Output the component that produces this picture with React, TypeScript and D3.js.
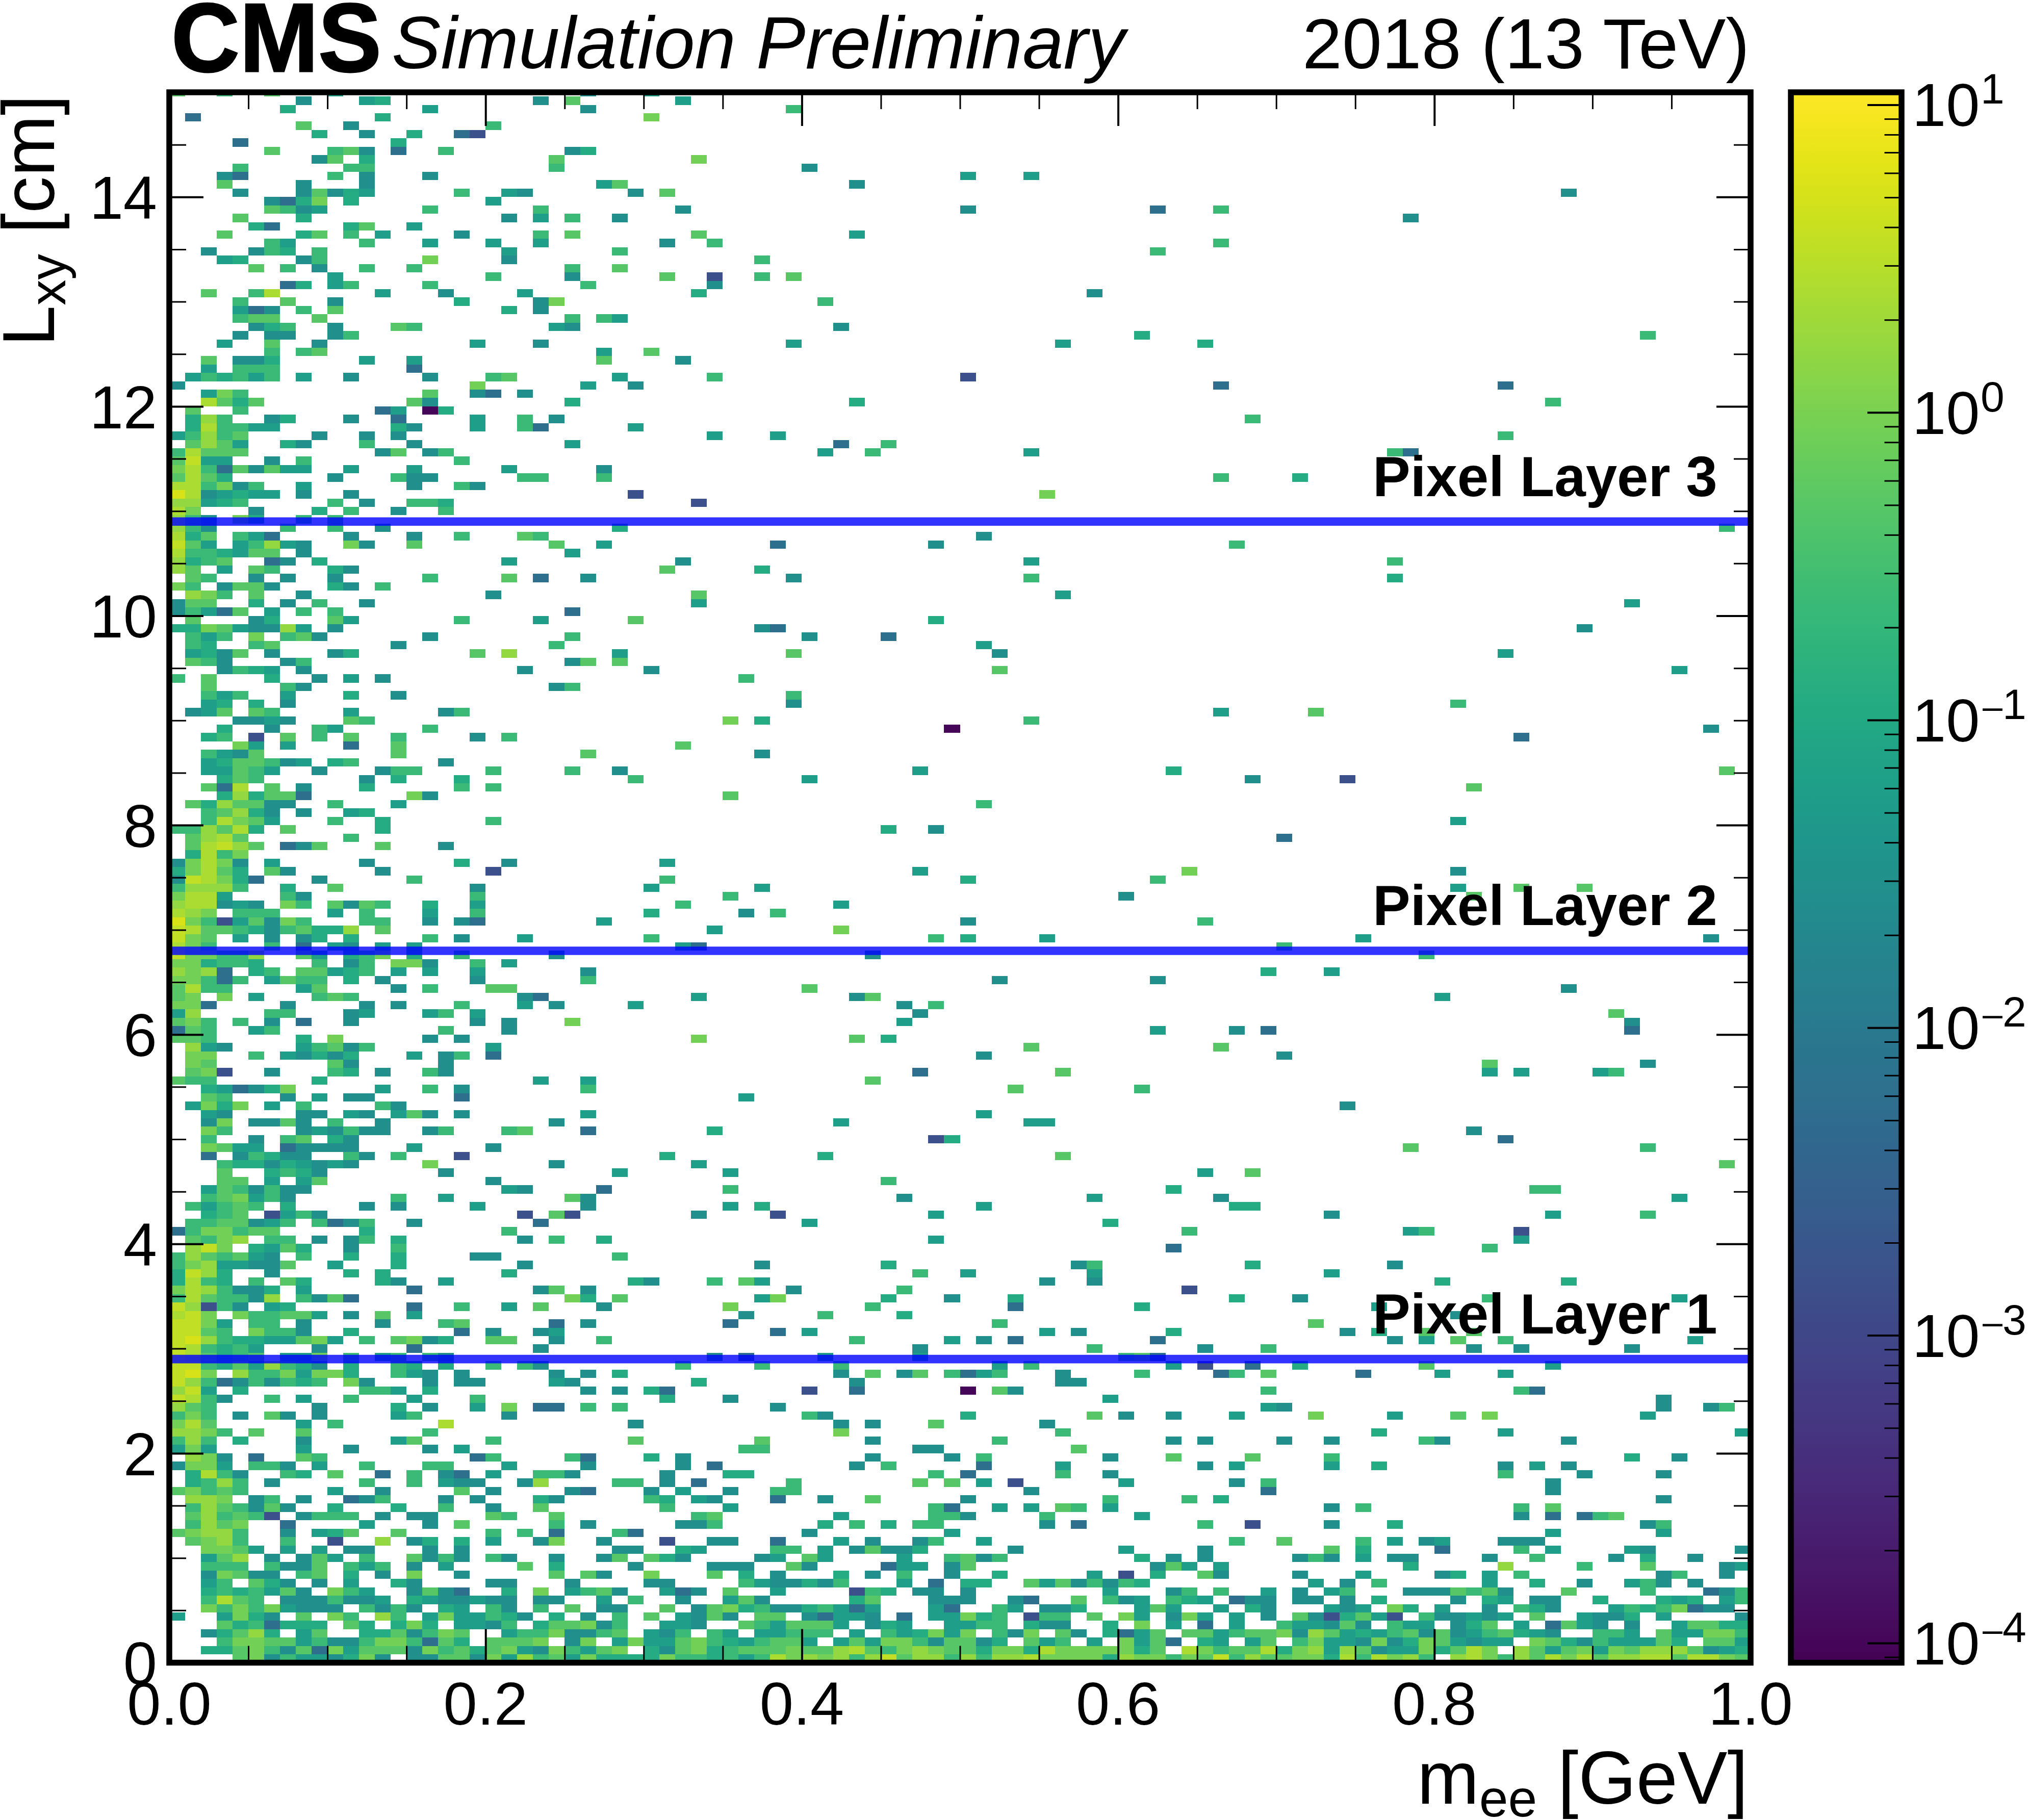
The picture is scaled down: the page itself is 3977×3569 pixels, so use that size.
import React, { useEffect, useRef } from 'react';
import * as d3 from 'd3';

// Each row is one Lxy bin, top of the plot first. Token = m_ee bin index + weight level.
const rowsTop = [
  '0h 3g 6h 10e 26d 30e', '8d 12e 13f 23d 25h 32e', '7f 16e 26d 39g', '1c 13f 30i', '8h 11d 20g', '9f 12d 15f 18c 19b',
  '4c 14f', '6h 10g 11h 12d 14c 17g 25d 26f', '9d 10h 12f 24h 33i', '4g 11g 12g 24g 40d', '3d 4c 10g 12d 16d 50e 54e',
  '3h 8d 12d 27e 28h 43d', '4d 8d 9h 10d 11f 12e 18g 21e 22d 29d 31h 88d', '6d 7c 8f 9i 11f 20e',
  '6h 7g 8d 9e 16g 23g 32d 50d 62c 66g', '4h 8f 21d 23e 25g 28d 78d', '5f 6c 11f 12h 15e',
  '3h 8f 9h 11g 13e 18d 23g 25h 33h 43e', '6g 7e 12g 16e 20e 23e 31d 34g 66g', '2d 5d 6g 7f 9g 21e 28g 62g',
  '3e 4f 8d 9g 16i 21d 37g', '5h 7g 9d 12g 15g 25g 28h', '10e 20g 25d 31h 34b 37g 39h', '7c 8f 10e 11g 16g 26g 34d',
  '2h 5g 6k 13e 17d 22e 33f 58d', '4g 7h 10d 18f 23d 24i 41g', '4e 5c 6d 8g 10h 21f 23d', '4g 5h 6h 9h 25g 27g 28e',
  '5d 6f 7g 10d 14h 15g 24e 25d 42d', '4d 6d 7d 10d 11g 61f 93g', '3e 6h 9d 19e 23d 39e 56e 65f', '6g 8g 9h 27e 30h',
  '2h 4d 5d 6f 12e 15e 27h 32d', '2e 4g 5g 6g 15c', '1e 2g 3f 4g 5e 6g 8e 11d 16d 20g 21h 28e 34g 50b',
  '0d 19i 26e 29d 66c 84c', '2e 3i 4g 16h 19d 20c 22d', '2k 3h 4f 5h 15h 16d 25f 43f 87g', '1h 4g 13c 14e 16a 17f',
  '1f 2j 3g 6d 7f 11d 14c 19e 22g 24d 68g', '1f 2k 3g 4g 5e 6e 14f 15d 19e 22g 23c 29e',
  '0e 1g 2j 3g 4h 9d 12d 14d 34e 38e 84g', '1h 2j 3h 4e 7f 8d 12g 15d 25e 42c 45g',
  '0g 1k 2h 3h 4h 13d 14h 16d 17g 41e 44g 54e 77g 78c', '0h 1l 2e 3e 6d 8g 18g',
  '0i 1k 2g 3c 4h 5d 6h 7e 8e 11e 15e 21e 27d', '0h 1k 2h 3f 10d 14g 15d 16d 22g 23g 27g 66g 71f',
  '0k 1k 2g 3i 4d 5g 8e 15d 18g 19d',
];

const rowsUpper = [
  '0m 1k 2d 3e 4f 5e 6e 8d 11d 29b 55i', '0j 1j 2e 3f 4g 10g 12d 15g 16g 17f 33b', '0k 1i 5d 9f 11g 14d 17g',
  '0j 1g 2d 4i 5f 8g 10g', '0j 1g 2d 7g 10g 13d 28f 98g', '0k 1f 2h 4g 5e 6c 11d 15d 18g 22h 23g 51d',
  '0l 1h 2e 4e 5g 6j 7e 8d 11i 12d 15h 24h 27e 38c 48d 67g', '0k 1g 2g 3f 4e 5h 6h 8d 25e',
  '0j 1f 2g 3h 6c 7d 9f 21e 32d 54e 77g', '0j 1h 3e 5h 6g 10f 11d 31h 37f', '1h 2g 5d 7d 10d 16g 21h 23c 26d 39d 54g 77f',
  '0i 1g 3d 4h 5h 6d 10f 11d 13g', '1j 2i 3g 5h 8d 20d 33h 56e', '0d 1h 2h 5f 7d 9g 12d 33e 92e',
  '0d 1g 2e 3c 4h 6e 8g 10g 25c', '1h 5d 6f 10h 11e 18g 23e 29h 48f', '0f 1f 2i 3h 4e 5d 6d 7j 8e 10d 37d 38c 89d',
  '1g 2e 3g 5i 7g 8h 9d 16d 25g 40d 45c', '1g 2f 5g 6h 14d 24g 51e', '1e 2f 3d 4h 6d 10d 11f 19h 21j 28e 39h 52d 84e',
  '1h 2g 3d 7d 8g 25d 26h 28h', '3d 4g 5f 6e 8d 22d 30d 52h 95e', '0g 2h 6f 9d 11e 13d 36g', '2h 7g 8d 24d 25g',
  '2g 3e 4g 7e 11f 14d 39g', '2e 3f 5f 7d 39d 81g', '1d 2e 3h 5h 6g 11e 17d 18g 66e 72h', '4d 5d 6e 7d 11h 12g 35i 37f 54g',
  '3f 6d 9g 10e 16g 49a 97d', '2f 3g 5b 7h 9g 11h 14g 19d 21g 85c', '4i 5e 7e 11c 14h 32h', '2g 3e 4d 5h 14h 26h 37d',
  '2e 3f 4h 5h 6g 7d 8e 10f 11g 17d', '2e 3e 4h 5g 6e 9d 13d 14g 15g 20g 25g 28d 47e 63f 98h',
  '3f 4h 5g 12d 14f 18f 29g 40e 68d 74b', '2h 3c 4k 6h 8d 12f 18g 20g 82h', '3f 4j 5f 6h 7h 8c 15i 16d 35h',
  '1h 2f 3j 4h 5h 6d 7d 10g 14e 51g', '2g 3h 4j 5f 6d 8d 11e 12f', '2g 3k 4i 5h 6e 10g 13f 20g 81e',
  '0g 1g 2j 3h 4k 5f 7h 13f 45f 48d', '1h 2j 3k 4h 11g 70c', '1h 2k 3l 4j 5h 7c 8d 9h 13h 17d', '1f 2k 3g 4i',
  '0d 1i 2k 3i 4d 6e 12d 18f 21d 31e', '0f 1i 2k 3h 4f 6h 7d 13d 20b 47e 64i 81d', '0d 1l 2k 3i 4f 5c 9d 15g 31g 50f 62g',
  '0g 1j 2j 3j 4g 7f 10h 19d 30e 37e 81e 85h 89h',
];

const rowsMiddle = [
  '0i 1k 2k 3e 7g 8d 19g 35g 60d 82h', '0j 1k 2k 3d 4e 5d 7i 8g 10h 11d 12h 13g 16f 19e 32g 42e',
  '0k 1j 2i 4g 5g 6g 10e 12g 16e 19g 30f 36d 38g', '0m 1i 2g 3b 4e 5h 6d 7i 8g 12g 13g 16d 18d 19c 27e 50d 65g',
  '0l 1k 2h 3h 4g 5f 6d 7g 8h 9f 10f 11j 13h 34e 42i', '0l 1i 2h 4e 6d 8d 9f 11f 16g 18d 22e 30g 48g 50f 55e 75e 97d',
  '0k 1i 2g 6g 8c 10e 11d 13e 15e 32e 33c 70g', '0l 1i 2i 3g 4g 5j 8h 9e 11f 12g 13i 15f 18g 24d 44d 79g',
  '0i 1i 2f 3g 4g 5f 9g 11d 12g 14i 15i 16d 19g 21e', '0j 1i 2j 3c 5f 6g 8h 9h 10e 11f 12g 14e 16e 19e 26d 69f 73e',
  '0i 1i 2g 3c 4g 6e 7h 8g 9g 11f 13d 19d 26g 52d 62d', '0h 1k 2g 3g 8e 9h 14d 16g 20h 21h 40h 88d',
  '0h 1i 3i 5e 9g 10h 11g 22d 23c 33e 43d 44h 80e', '0i 1i 2c 7d 12d 14d 18g 22e 24d 29e 46d 48g',
  '0e 1j 6g 7g 11d 12e 16e 17g 19e 47d 91h', '0h 1i 2g 4g 6d 8c 11d 19d 21d 25i 46e 92d',
  '0c 1h 2g 5e 6g 17g 21d 62e 67d 69c 92c', '0h 1h 2g 8f 10i 16d 18d 33i 43h 45f', '1j 2e 3d 8e 9g 10h 11d 12g 20e 54h 66h',
  '1i 2i 5g 7e 8d 9f 10d 11f 15e 17d 18g 20c 51d 70d', '1i 2h 10h 11d 17d 83h 93d',
  '1h 2i 3b 6d 10g 11f 13d 16g 17d 47c 56h 83e 85e 90e 91g', '0h 1g 2g 9f 23e 26e 44h',
  '2f 3e 4c 5d 6f 7i 13e 16g 18d 26g 53h 61g', '2h 3g 7d 9e 11d 12d 18c 36e', '1e 2i 3f 4i 6e 8g 13g 14d 74d',
  '2e 3d 8d 9d 11e 12d 14e 15h 16d 18d 26e 51e', '2d 3i 5d 6d 7h 8d 10g 13d 24d 42e 54e 55e',
  '2i 3g 8d 9e 10d 11g 12d 13d 16d 17g 21g 22h 26c 34f 82d', '2g 5d 7g 8h 10f 11d 48b 49f 84c',
  '2i 3h 4e 5e 7c 8d 9d 10d 11d 15e 20d 78h 93g', '2c 4d 5g 6f 7d 8d 11g 12d 14g 18b 31f 41f 56h',
  '3g 4f 5f 6d 7f 8e 9d 10e 11d 16i 24d 33e 98h', '3h 6f 7g 8f 9d 17d 28e 35e 65e 68h', '3h 4h 6e 8e 9h 20d 45g',
  '2e 3h 4g 5d 6g 7d 8d 21e 22d 27c 35g 63f 86g 87g', '2g 3h 4i 5e 6g 7d 14g 17e 25h 26d 46d 58e 66d 95e',
  '1g 2e 3g 4h 5g 7f 12d 14d 19e 26d 35e 37f 51e 67f 68f', '2f 3g 4h 6b 7e 8g 9d 22b 24h 25b 33d 38b 48e 73d 87e 93g',
  '1g 2g 3h 4h 5d 6e 7g 9g 10c 11d 12g 15d 23c 40e 59f', '0c 1g 2i 3i 4g 5h 6h 12f 21g 64g 78e 79g 85b',
  '1h 2g 3i 4j 6g 7g 9d 11d 12g 14f 22d 24g 27f 48e 85e', '1j 2l 3i 5f 6e 7h 8f 11d 14g 63c 83g',
  '0g 1j 2h 3g 4h 5e 6d 8g 11f 14f 19d 20d 28g', '0g 1i 2j 3e 4e 5d 6d 7h 10e 14f 22d 37d 45f 57d 58g 68f 77d',
  '0f 1l 2j 3f 6d 11f 13f 21f 47g 50e 58e 73e', '0f 1k 2g 3f 5g 7h 8f 13f 14d 17e 29f 30d 34g 36h 37e 55d 58d 80f 88f',
];

const rowsLower = [
  '0i 1k 2j 3g 4d 5d 6f 8e 15c 23d 24h 26d 39d 46g 64b',
  '0g 1k 2h 3g 4g 5d 6j 8g 9d 10h 11c 25i 26f 28h 37e 38i 45f 49d 53f 67f 71d 83g 95e',
  '0l 1j 2b 3g 4d 6e 7f 15c 18g 21e 23h 27d 35i 44g 53c 61f 76e',
  '0k 1l 2i 4i 5g 6g 7h 8h 9e 11d 13h 15e 36d 41g 46f 81d',
  '0l 1l 2i 3e 5g 6g 8d 13d 17g 18h 24c 26d 35c 52g 72h',
  '0l 1l 2h 3g 5i 6g 7g 8d 11f 18c 20d 23d 24e 38c 40e 55e 57d 63f 74d 76f 79h 82h',
  '0l 1m 2j 3g 4f 5f 6e 7e 8h 9i 10e 12g 14h 15i 16d 17f 20h 21h 24d 27g 43g 49e 51d 53c 62c 77d 79e 81h 84g 96e',
  '0l 1k 2g 3f 4g 5e 9d 15c 23d 47d 58g 65d 69g 82d 85d 92d',
  '0l 1k 2h 3f 4g 5h 7e 8e 9i 11g 13e 14g 16g 17d 34d 36c 41e 47e 60g 61h 62c',
  '0l 1l 2g 3f 4h 5e 6j 7g 8f 9d 11f 14g 15f 17f 20g 22g 23d 32g 37g 42g 52e 54g 63e 65b 68c 71f 79h 87e',
  '0l 1m 2i 4j 5g 6g 7i 8e 9i 10i 11f 14g 15e 16d 18d 24d 26d 28f 42d 44h 46d 47h 49g 50c 51e 52g 56d 61g 66c 67g 69h 75c 80e 84e',
  '0l 1j 2g 3c 4d 5g 6d 7g 8f 9g 11i 12d 16d 18d 19d 24e 25d 33f 43d 56d 57d',
  '0j 1l 2e 4f 12g 13g 14e 16f 26d 28d 30f 31c 40b 43c 50a 52h 53d 69g 85g 86c',
  '0l 1k 2g 3d 6g 8e 11g 15e 19g 31f 35d 59e 94d',
  '0j 1h 2g 9d 14f 16d 19e 21i 23c 24c 26g 28g 38d 69e 70d 94d 97d 98g',
  '0g 1i 2g 4d 6h 7d 9d 14e 15g 21d 40g 41d 50f 58h 60d 63d 67e 72i 77e 81h 83i 93e',
  '0i 1k 2h 8e 10g 17k 29d 42d 44d 48h 55d',
  '0j 1j 2i 3g 5h 8h 16g 42i 56g 76f 84e 99e',
  '0g 1j 2g 4f 8d 14e 15h 20g 29h 37h 44d 52g 63d 65d 70d 73d 79g 80d 88d',
  '0e 1i 2e 8e 11d 16d 18e 36g 37g 47d 48d 57h',
  '1j 2i 3d 5c 8h 9g 19c 20g 25g 26c 30f 32d 44d 49d 51g 59d 63h 68h 73g 92f 95d',
  '0d 1i 2i 3e 5g 6g 7d 9e 12g 16g 17g 21e 26d 32d 34c 43d 45g 51c 56e 65d 67e 73e 76f 84d 86e 88d',
  '1f 2k 3g 4d 7g 8f 10h 13c 15g 17d 18c 20e 23g 24g 25d 31d 35f 36f 48g 50c 56g 59d 84g 89d 94d',
  '1f 2g 3j 4g 6d 12g 15g 17e 18d 19d 22d 23j 28g 29g 31d 33c 39g 47h 49h 51e 53b 60e 67d 69g 87d',
  '0h 1i 2g 3h 4g 10e 13d 18h 20d 25d 26c 30d 32e 35d 38g 39g 54d 69c 87d',
  '1j 2j 3i 5d 6g 8d 11c 12d 13g 17d 19d 23f 24d 30g 31f 33e 34d 38c 41d 44h 50d 59g 64g 66f 94d',
  '1g 2j 3h 4g 5d 6h 7d 10f 14f 17g 20d 23h 31g 35e 48g 49c 52e 54e 56h 57g 59e 73d 75g 85g 87h',
  '1h 2j 3g 4h 5g 6b 8d 9g 10g 11g 13d 15d 16d 20h 21g 24h 33g 34h 42e 48g 49g 50d 55g 61e 85d 87c 89c 90g 91h',
  '1g 2j 3h 4i 7c 12e 16d 18h 24g 26d 32d 33d 34g 41f 43g 45f 47g 48g 55d 57c 65g 68b 73d 77f 93d 94g',
  '0h 1i 2j 3j 4g 7d 9e 10f 11h 14h 20g 22g 24c 28g 29c 40d 49e 87e 94e',
  '1h 2i 3j 4g 7g 10b 13j 15d 16f 18f 20e 23d 24i 27d 31b 34d 35d 38c 42e 44d 47d 48g 51e 67g 70h 75g 77e 79d 80e 84d 85d 86d',
  '2i 3i 4h 5e 7e 9e 11d 12d 16d 18d 28d 29d 32f 33e 38g 39g 41e 43d 44h 45d 46d 47f 53d 60e 65d 73h 75f 80c 85g 87e 92e 93d 99d',
  '2e 3h 4j 6d 8d 9h 10e 12g 15h 16d 17g 18d 20g 21d 24d 27d 28h 30h 31f 32d 37d 38e 40h 41e 46e 49g 50h 51d 52g 61f 63d 65d 71d 72g 73d 75e 77d 78d 83d 86g 91d 93f 96d',
  '2g 3g 4g 6g 7d 8d 9h 11g 12e 13g 15d 17e 22h 24f 29d 34d 35d 36d 39h 40d 45c 46e 47e 49d 50h 62d 63h 64e 66e 78f 84j 89g 93h 98d 99e',
  '2d 3i 4h 5d 6d 8g 9h 11f 13d 15i 18d 24h 26h 27d 30i 34h 36f 38d 42f 44d 46g 49d 52f 58e 60b 62f 65h 66d 71d 75e 80d 81f 83e 85g 94d 95g 98d',
  '2e 3g 5h 6f 7d 9d 11e 14f 15d 20d 21d 25d 30d 31d 36g 37e 38d 39d 40f 41d 42g 46e 48c 50f 51f 54h 55e 56h 57d 58g 59d 60g 61f 72e 74d 76g 83e 86f 89d 92e 93g 94d 96d',
  '2f 3g 4f 5g 6e 7h 8d 10i 11g 12e 15d 16h 17d 18c 21f 23i 25e 26g 27h 28d 31e 32c 33d 35h 38e 43b 44g 45f 47d 48d 50d 59e 63d 64g 66g 69e 71d 73e 74g 78d 79d 80d 81h 82g 83h 84d 88h 93g 97c 98d 99g',
  '2g 3k 4h 5g 7d 8d 9d 10g 11d 12d 13e 15f 16e 17d 18d 19e 20d 21d 23d 24d 27e 29g 32d 35e 36h 37d 43f 44h 48d 49d 50d 53d 54c 57h 59g 60d 61e 63g 64f 65e 67c 68d 69d 71d 72d 74d 76f 81d 83f 84e 86d 87d 90f 94f 95e 96f 98e 99g',
  '2i 3g 4i 5g 6i 7e 8d 9d 10d 12g 13d 14g 15d 17f 18e 20g 21d 23g 25h 27d 28d 31h 33d 34h 35i 36f 37g 38d 39d 40f 41g 42e 43c 44e 48e 49c 52g 53e 55d 56d 57f 61e 62h 63e 66e 68f 69d 73e 74d 75e 77i 78f 80e 83d 85g 86f 87d 91e 92g 93f 94g 95i 96c 97d 98d',
  '0e 3e 4i 5f 6d 8h 10i 11g 13j 14g 16e 17i 18e 19e 20g 21f 22d 24f 26d 28g 30h 32e 33d 34h 35d 37h 38h 40d 41c 42e 43e 44d 46c 48e 49e 50i 51f 52g 54b 55g 56g 58h 60i 61e 63d 64i 65e 67e 69d 71h 72d 73b 74f 75h 76e 77b 79g 80d 81d 82e 83d 84e 86h 89e 90d 91d 92f 94e 99d',
  '3h 4f 5g 6c 7f 8f 9f 11h 12f 14f 15i 16f 18e 19e 20d 21g 23f 24h 25h 26i 27d 28g 31e 32e 33d 36h 37g 38e 39h 40h 41h 42e 44d 45f 46e 49e 50e 51g 52g 54f 55d 56d 59f 61i 63e 65c 67e 70g 71e 72e 73d 74h 75d 77g 78e 79e 81d 82f 83h 85e 87c 88h 89e 90d 92d 95e 96h 97h 98f 99f',
  '2d 3f 4h 5j 6f 8e 9h 12f 13f 14h 15d 16g 17i 18h 21e 22g 23g 24i 25d 26d 27g 28h 30e 31d 32g 34g 35e 37e 38e 39g 40g 41g 43e 45g 46e 47f 48i 49e 50i 52g 53d 54i 56h 57d 59f 60c 61e 62h 64h 65h 66e 67g 68h 69h 70i 71d 72j 73h 74e 75f 76e 77g 78h 79d 80h 81d 82e 83g 84h 85f 86e 87d 90g 91g 92e 94h 95e 96e 97i 98i 99g',
  '3g 4i 5i 6h 7h 8e 9g 10d 11d 12g 13i 14i 15g 16c 17h 18f 20h 21h 22h 23i 25d 26i 28e 29i 30e 31e 32h 33i 34g 35f 36e 37g 38h 39h 40e 42e 43h 44e 45i 46i 47g 48d 49h 50h 51d 52f 54h 55e 56g 58e 60i 61e 62h 63c 65f 66e 68e 69h 71g 72i 73e 74e 75d 76i 77d 78f 79i 80h 81e 82d 83e 84e 86i 87h 88f 89d 90g 91e 92e 93e 94h 95f 97h 98h 99e',
  '2f 3f 4h 5i 6g 7d 8h 9c 10i 11e 12h 13h 14h 15d 16i 17g 18h 19f 20h 21i 22e 23d 24i 25g 26e 27h 28i 30f 31d 32h 33i 34f 35g 36h 37h 38h 39i 40h 41h 42j 43k 44h 45g 46i 47j 48i 49h 50h 51f 52i 53i 54f 55k 56i 57i 58i 59i 60i 61f 62h 64k 65i 66g 67h 68h 69k 70f 71i 72j 73e 74j 75h 76d 77e 78e 79i 80f 81h 82k 83i 85j 86h 87e 88h 89i 90e 91i 92h 93j 94j 95j 96h 97d 98e 99f',
  '4h 5i 6d 7g 8e 9e 10d 11f 12i 13d 15d 16d 17h 18h 19d 20i 21e 22j 23g 24h 25e 26i 27f 28f 29f 30f 31i 32g 33g 34f 35g 36e 37g 38k 39i 40j 41i 42j 43g 44j 45l 46h 47j 48j 49g 50j 51g 52j 53j 54k 55i 56i 57i 58i 59f 60j 61i 62i 63g 64i 65h 66l 67g 68j 69h 70h 71i 72i 73f 74k 75g 76k 77i 78j 79g 81j 82k 83i 84g 85j 86h 87k 88i 89k 90h 91j 92j 93k 94k 95h 96k 97k 98i 99h',
];

const levelCodes = 'abcdefghijklm';
const levelValues = [1e-4, 1.5e-3, 6e-3, 0.03, 0.06, 0.12, 0.25, 0.5, 0.9, 1.6, 2.5, 3.6, 5.5];

const pixelLayers = [
  { name: 'Pixel Layer 1', lxy: 2.9 },
  { name: 'Pixel Layer 2', lxy: 6.8 },
  { name: 'Pixel Layer 3', lxy: 10.9 },
];

const xMajor = [0, 0.2, 0.4, 0.6, 0.8, 1.0];
const xMinor = d3.range(0, 21).filter((i) => i % 4 !== 0).map((i) => i * 0.05);
const yMajor = [0, 2, 4, 6, 8, 10, 12, 14];
const yMinor = d3.range(0, 31).filter((i) => i % 4 !== 0).map((i) => i * 0.5);
const zMajor = [-4, -3, -2, -1, 0, 1];

const xBinWidth = 0.01;
const yBinWidth = 0.08;
const zMin = 8.63e-5;
const zMax = 10.98;

const WIDTH = 3977;
const HEIGHT = 3569;
const left = 332;
const right = 3433;
const top = 181;
const bottom = 3260.5;
const barLeft = 3512;
const barRight = 3729;
const FONT = '"Liberation Sans", Arial, sans-serif';

export default function App() {
  const svgRef = useRef<SVGSVGElement>(null);

  useEffect(() => {
    if (!svgRef.current) return;
    const svg = d3.select(svgRef.current);
    svg.selectAll('*').remove();

    const x = d3.scaleLinear().domain([0, 1]).range([left, right]);
    const y = d3.scaleLinear().domain([0, 15]).range([bottom, top]);
    const z = d3.scaleLog().domain([zMin, zMax]).range([bottom, top]);
    const color = d3.scaleSequentialLog(d3.interpolateViridis).domain([zMin, zMax]);

    const rows = [...rowsTop, ...rowsUpper, ...rowsMiddle, ...rowsLower];
    const cells = rows.flatMap((row, k) =>
      row.split(' ').map((token) => ({
        col: parseInt(token, 10),
        bin: rows.length - 1 - k,
        value: levelValues[levelCodes.indexOf(token[token.length - 1])],
      }))
    );

    const defs = svg.append('defs');
    defs.append('clipPath').attr('id', 'plot-clip').append('rect')
      .attr('x', left).attr('y', top).attr('width', right - left).attr('height', bottom - top);
    const gradient = defs.append('linearGradient').attr('id', 'viridis')
      .attr('x1', 0).attr('x2', 0).attr('y1', 1).attr('y2', 0);
    d3.range(0, 65).forEach((i) => {
      gradient.append('stop').attr('offset', i / 64).attr('stop-color', d3.interpolateViridis(i / 64));
    });

    // 2D histogram
    svg.append('g').attr('clip-path', 'url(#plot-clip)').attr('shape-rendering', 'crispEdges')
      .selectAll('rect').data(cells).join('rect')
      .attr('x', (d) => x(d.col * xBinWidth))
      .attr('width', (d) => x((d.col + 1) * xBinWidth) - x(d.col * xBinWidth))
      .attr('y', (d) => y((d.bin + 1) * yBinWidth))
      .attr('height', (d) => y(d.bin * yBinWidth) - y((d.bin + 1) * yBinWidth))
      .attr('fill', (d) => color(d.value));

    // pixel layer positions
    svg.append('g').selectAll('line').data(pixelLayers).join('line')
      .attr('x1', left).attr('x2', right)
      .attr('y1', (d) => y(d.lxy)).attr('y2', (d) => y(d.lxy))
      .attr('stroke', 'blue').attr('stroke-opacity', 0.8).attr('stroke-width', 16.6);

    svg.append('g').selectAll('text').data(pixelLayers).join('text')
      .attr('x', 2692).attr('y', (d) => y(d.lxy) - 50)
      .attr('font-family', FONT).attr('font-weight', 'bold').attr('font-size', 110.5)
      .text((d) => d.name);

    // ticks on all four sides
    const ticks = (axis: any, pos: string, values: number[], size: number, width: number) => {
      const g = svg.append('g').attr('transform', pos)
        .call(axis.tickValues(values).tickSizeInner(-size).tickSizeOuter(0).tickFormat(() => ''));
      g.select('.domain').remove();
      g.selectAll('line').attr('stroke', '#000').attr('stroke-width', width);
      return g;
    };
    ticks(d3.axisBottom(x), `translate(0,${bottom})`, xMajor, 66, 4);
    ticks(d3.axisBottom(x), `translate(0,${bottom})`, xMinor, 33, 3);
    ticks(d3.axisTop(x), `translate(0,${top})`, xMajor, 66, 4);
    ticks(d3.axisTop(x), `translate(0,${top})`, xMinor, 33, 3);
    ticks(d3.axisLeft(y), `translate(${left},0)`, yMajor, 67, 4);
    ticks(d3.axisLeft(y), `translate(${left},0)`, yMinor, 33, 3);
    ticks(d3.axisRight(y), `translate(${right},0)`, yMajor, 67, 4);
    ticks(d3.axisRight(y), `translate(${right},0)`, yMinor, 33, 3);

    svg.append('rect').attr('x', left).attr('y', top)
      .attr('width', right - left).attr('height', bottom - top)
      .attr('fill', 'none').attr('stroke', '#000').attr('stroke-width', 11.5);

    // tick labels
    svg.append('g').selectAll('text').data(xMajor).join('text')
      .attr('x', (d) => x(d)).attr('y', 3382)
      .attr('text-anchor', 'middle').attr('font-family', FONT).attr('font-size', 119)
      .text((d) => d3.format('.1f')(d));
    svg.append('g').selectAll('text').data(yMajor).join('text')
      .attr('x', 308).attr('y', (d) => y(d)).attr('dy', '0.358em')
      .attr('text-anchor', 'end').attr('font-family', FONT).attr('font-size', 119)
      .text((d) => String(d));

    // axis titles
    const xTitle = svg.append('text').attr('x', 3428).attr('y', 3537)
      .attr('text-anchor', 'end').attr('font-family', FONT).attr('font-size', 146);
    xTitle.append('tspan').text('m');
    xTitle.append('tspan').attr('font-size', 102).attr('dy', 25).text('ee');
    xTitle.append('tspan').attr('dy', -25).text(' [GeV]');

    const yTitle = svg.append('text')
      .attr('transform', 'translate(106,186) rotate(-90)')
      .attr('text-anchor', 'end').attr('font-family', FONT).attr('font-size', 144);
    yTitle.append('tspan').text('L');
    yTitle.append('tspan').attr('font-size', 101).attr('dy', 22).text('xy');
    yTitle.append('tspan').attr('dy', -22).text(' [cm]');

    // header
    svg.append('text').attr('x', 336).attr('y', 140)
      .attr('font-family', FONT).attr('font-weight', 'bold').attr('font-size', 191)
      .attr('stroke', '#000').attr('stroke-width', 3)
      .attr('textLength', 412).attr('lengthAdjust', 'spacingAndGlyphs').text('CMS');
    svg.append('text').attr('x', 768).attr('y', 134)
      .attr('font-family', FONT).attr('font-style', 'italic').attr('font-size', 145)
      .attr('textLength', 1438).attr('lengthAdjust', 'spacingAndGlyphs').text('Simulation Preliminary');
    svg.append('text').attr('x', 3431).attr('y', 134)
      .attr('text-anchor', 'end').attr('font-family', FONT).attr('font-size', 140)
      .text('2018 (13 TeV)');

    // colour bar
    svg.append('rect').attr('x', barLeft).attr('y', top)
      .attr('width', barRight - barLeft).attr('height', bottom - top)
      .attr('fill', 'url(#viridis)').attr('stroke', '#000').attr('stroke-width', 11.5);

    const zMinor = zMajor.flatMap((e) => d3.range(2, 10).map((m) => m * 10 ** e))
      .concat([9e-5])
      .filter((v) => v >= zMin && v <= zMax);
    ticks(d3.axisRight(z), `translate(${barRight - 5.5},0)`, zMajor.map((e) => 10 ** e), 61.5, 4);
    ticks(d3.axisRight(z), `translate(${barRight - 5.5},0)`, zMinor, 28, 3);

    const zLabels = svg.append('g').selectAll('g').data(zMajor).join('g')
      .attr('transform', (d) => `translate(3750,${z(10 ** d) + 42})`);
    zLabels.append('text').attr('font-family', FONT).attr('font-size', 119).text('10');
    const sup = zLabels.append('text').attr('x', (d) => (d < 0 ? 138 : 134)).attr('y', -44)
      .attr('font-family', FONT).attr('font-size', 84);
    sup.filter((d) => d < 0).append('tspan').attr('font-size', 70).text('\u2013');
    sup.append('tspan').text((d) => String(Math.abs(d)));
  }, []);

  return (
    <svg
      ref={svgRef}
      width={WIDTH}
      height={HEIGHT}
      viewBox={`0 0 ${WIDTH} ${HEIGHT}`}
      style={{ position: 'absolute', left: 0, top: 0, background: '#fff' }}
    />
  );
}
